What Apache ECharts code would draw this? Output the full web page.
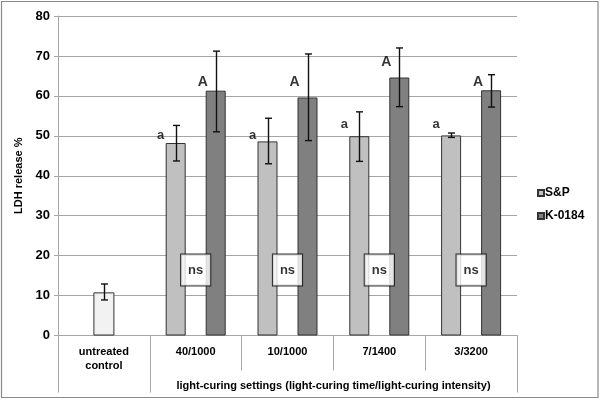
<!DOCTYPE html>
<html><head><meta charset="utf-8">
<script src="https://cdn.jsdelivr.net/npm/echarts@6/dist/echarts.min.js"></script>
<style>html,body{margin:0;padding:0;background:#fff}#c{width:600px;height:400px}</style>
</head><body><div id="c"></div>
<script>
const categories = ['untreated\ncontrol', '40/1000', '10/1000', '7/1400', '3/3200'];
const controlValues = [10.8, null, null, null, null];
const controlErr = [[0, 8.9, 12.9]];
const spValues = [null, 48.2, 48.6, 49.9, 50.1];
const spErr = [[1, 43.7, 52.6], [2, 43.0, 54.4], [3, 43.6, 56.0], [4, 49.6, 50.7]];
const kValues = [null, 61.3, 59.6, 64.6, 61.4];
const kErr = [[1, 51.0, 71.2], [2, 48.8, 70.5], [3, 57.3, 72.0], [4, 57.2, 65.3]];
const aLabels = [[1, 50.2], [2, 50.2], [3, 52.9], [4, 52.9]];
const bigALabels = [[1, 63.4], [2, 63.4], [3, 68.4], [4, 63.4]];
const nsLabels = [[1, 16.4], [2, 16.4], [3, 16.4], [4, 16.4]];
const yTicks = {min: 0, max: 80, interval: 10};
const groupName = 'light-curing settings (light-curing time/light-curing intensity)';

const FONT = 'Liberation Sans, Arial, sans-serif';
const GRID = '#a6a6a6';
const BW = 20;

function errSeries(data, offset, xIdx) {
  return {
    type: 'custom', xAxisIndex: xIdx || 0, z: 5, data: data,
    renderItem: function (params, api) {
      const x = api.value(0);
      const lo = api.coord([x, api.value(1)]);
      const hi = api.coord([x, api.value(2)]);
      const cx = Math.round(lo[0] + offset) + 0.5;
      const cap = 3.5;
      const st = {stroke: '#111', lineWidth: 1.4};
      return {type: 'group', children: [
        {type: 'line', shape: {x1: cx, y1: lo[1], x2: cx, y2: hi[1]}, style: st},
        {type: 'line', shape: {x1: cx - cap, y1: hi[1], x2: cx + cap, y2: hi[1]}, style: st},
        {type: 'line', shape: {x1: cx - cap, y1: lo[1], x2: cx + cap, y2: lo[1]}, style: st}
      ]};
    }
  };
}

function textSeries(data, text, dx, extra) {
  return {
    type: 'scatter', symbolSize: 0, z: 10, silent: true, data: data,
    label: Object.assign({show: true, position: 'inside', formatter: text, offset: [dx, 0],
      color: '#000', fontFamily: FONT, fontWeight: 'bold', fontSize: 13}, extra || {})
  };
}

const chart = echarts.init(document.getElementById('c'));
chart.setOption({
  backgroundColor: '#fff',
  animation: false,
  graphic: [{type: 'rect', shape: {x: 1.5, y: 1.5, width: 596.5, height: 396}, style: {fill: 'none', stroke: '#8a8a8a', lineWidth: 1.2}, z: 100}],
  grid: {left: 58, right: 83, top: 16, bottom: 64.5},
  legend: {
    orient: 'vertical', left: 532, top: 182, itemWidth: 6, itemHeight: 6, itemGap: 11,
    icon: 'rect', data: ['S&P', 'K-0184'],
    textStyle: {fontFamily: FONT, fontWeight: 'bold', fontSize: 12, color: '#000', padding: [0, 0, 0, -4]}
  },
  xAxis: [{
    type: 'category', data: categories, position: 'bottom',
    axisLine: {lineStyle: {color: GRID}},
    axisTick: {show: true, interval: 0, length: 35, lineStyle: {color: GRID}},
    axisLabel: {interval: 0, margin: 9, fontFamily: FONT, fontWeight: 'bold', fontSize: 11, color: '#000', lineHeight: 14},
    name: groupName, nameLocation: 'middle', nameGap: 45,
    nameTextStyle: {fontFamily: FONT, fontWeight: 'bold', fontSize: 11, color: '#000', padding: [0, 0, 0, 92]}
  }, {
    type: 'category', data: categories, position: 'bottom', offset: 0,
    axisLine: {show: false},
    axisTick: {show: true, length: 57, interval: function (i) { return i <= 1; }, lineStyle: {color: GRID}},
    axisLabel: {show: false}
  }],
  yAxis: {
    type: 'value', min: yTicks.min, max: yTicks.max, interval: yTicks.interval,
    axisLine: {show: true, lineStyle: {color: GRID}},
    axisTick: {show: true, length: 4, lineStyle: {color: GRID}},
    splitLine: {lineStyle: {color: GRID, width: 1}},
    axisLabel: {margin: 8, fontFamily: FONT, fontWeight: 'bold', fontSize: 13, color: '#000'},
    name: 'LDH release %', nameLocation: 'middle', nameGap: 27,
    nameTextStyle: {fontFamily: FONT, fontWeight: 'bold', fontSize: 11, color: '#000'}
  },
  series: [
    {name: 'control', type: 'bar', xAxisIndex: 1, data: controlValues, barWidth: 21,
      itemStyle: {color: '#f2f2f2', borderColor: '#333', borderWidth: 1}},
    {name: 'S&P', type: 'bar', xAxisIndex: 0, data: spValues, barWidth: BW, barGap: '100%',
      itemStyle: {color: '#c0c0c0', borderColor: '#333', borderWidth: 1}},
    {name: 'K-0184', type: 'bar', xAxisIndex: 0, data: kValues, barWidth: BW, barGap: '100%',
      itemStyle: {color: '#808080', borderColor: '#333', borderWidth: 1}},
    errSeries(controlErr, 0, 1),
    errSeries(spErr, -BW, 0),
    errSeries(kErr, BW, 0),
    textSeries(aLabels, 'a', -35),
    textSeries(bigALabels, 'A', 7, {fontSize: 14}),
    textSeries(nsLabels, 'ns', 0, {backgroundColor: '#fff', borderColor: '#000', borderWidth: 1, padding: [8, 7, 8, 7], lineHeight: 15})
  ]
});
</script></body></html>
